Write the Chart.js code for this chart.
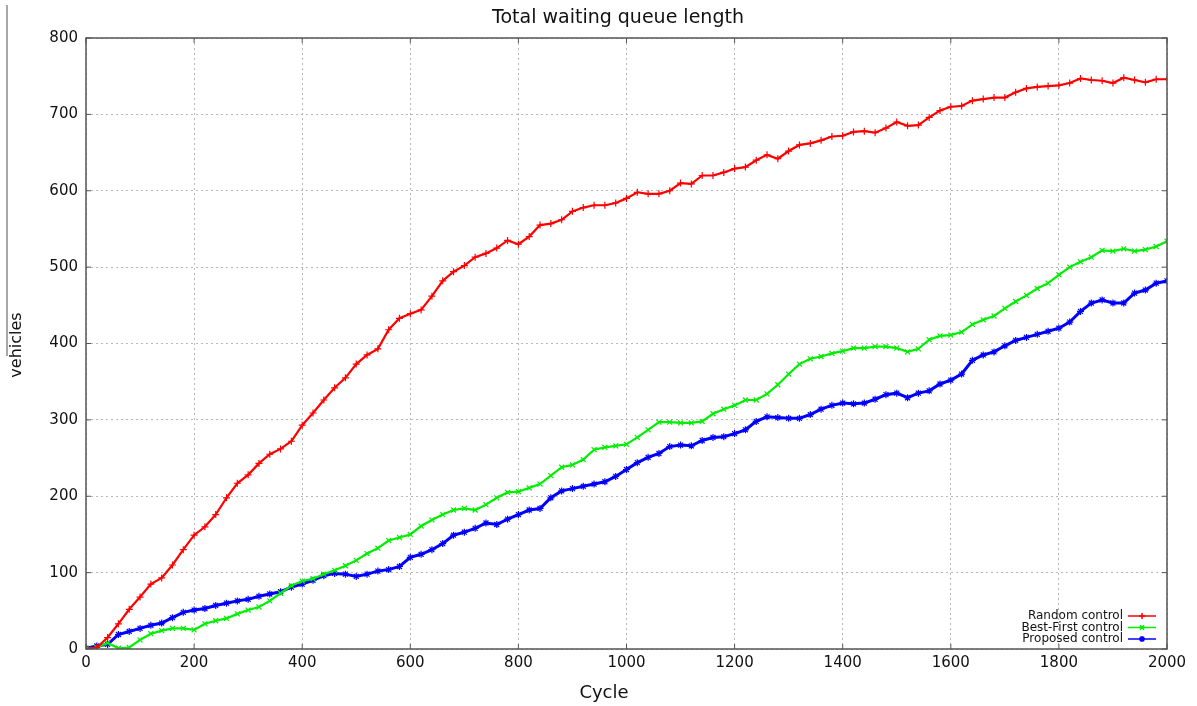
<!DOCTYPE html>
<html>
<head>
<meta charset="utf-8">
<script src="https://cdn.jsdelivr.net/npm/chart.js@4"></script>
<style>
  html, body { margin: 0; padding: 0; background: #fff; }
  #box { width: 1197px; height: 706px; }
</style>
</head>
<body>
<div id="box"><canvas id="queueChart" width="1197" height="706"></canvas></div>
<script>
// cycle values, one reading every 20 cycles
const cycles = [];
for (let c = 0; c <= 2000; c += 20) cycles.push(c);

const randomQueue = [
  0, 2, 15, 33, 52, 68, 85, 93, 110, 130, 149, 160, 176, 198, 217, 228, 243, 255, 262, 272,
  293, 309, 326, 342, 355, 373, 385, 393, 418, 433, 439, 444, 462, 482, 494, 502, 513, 518, 525, 535,
  530, 540, 555, 557, 562, 573, 578, 581, 581, 584, 590, 598, 596, 596, 600, 610, 609, 620, 620, 624,
  629, 631, 640, 647, 642, 652, 660, 662, 666, 671, 672, 677, 678, 676, 682, 690, 685, 686, 696, 705,
  710, 711, 718, 720, 722, 722, 729, 734, 736, 737, 738, 741, 747, 745, 744, 741, 748, 745, 742, 746,
  746
];
const bestFirstQueue = [
  0, 2, 8, 1, 2, 12, 20, 24, 27, 27, 25, 33, 37, 40, 46, 51, 55, 63, 73, 83,
  89, 92, 98, 103, 109, 116, 125, 132, 142, 146, 150, 161, 169, 176, 182, 184, 182, 189, 198, 205,
  206, 211, 216, 227, 238, 241, 248, 261, 264, 266, 268, 277, 287, 297, 297, 296, 296, 298, 308, 314,
  319, 326, 326, 334, 346, 360, 373, 380, 383, 387, 390, 394, 394, 396, 396, 394, 389, 393, 405, 410,
  411, 415, 425, 431, 436, 446, 455, 463, 472, 479, 490, 500, 507, 513, 522, 521, 524, 521, 523, 527,
  534
];
const proposedQueue = [
  1, 4, 6, 19, 23, 27, 31, 34, 41, 48, 51, 53, 57, 60, 63, 65, 69, 72, 75, 81,
  85, 90, 96, 99, 98, 95, 98, 102, 104, 108, 120, 124, 130, 138, 149, 153, 158, 165, 163, 170,
  176, 182, 184, 198, 207, 210, 213, 216, 219, 226, 235, 244, 251, 256, 265, 267, 266, 273, 277, 278,
  282, 287, 298, 304, 303, 302, 302, 307, 314, 319, 322, 321, 322, 327, 333, 335, 329, 335, 338, 347,
  352, 360, 378, 385, 389, 397, 404, 408, 412, 416, 420, 428, 442, 453, 457, 453, 453, 466, 470, 479,
  482
];

const seriesNames = ["Random control", "Best-First control", "Proposed control"];
const seriesColors = ["#ff0000", "#00ee00", "#0000ff"];
const seriesMarks = ["cross", "crossRot", "star"];
const seriesValues = [randomQueue, bestFirstQueue, proposedQueue];

const FONT = "'DejaVu Sans', Verdana, sans-serif";

const datasets = seriesValues.map((vals, i) => ({
  label: seriesNames[i],
  data: vals.map((v, k) => ({ x: cycles[k], y: v })),
  borderColor: seriesColors[i],
  backgroundColor: seriesColors[i],
  borderWidth: i === 2 ? 3 : 2.2,
  pointStyle: seriesMarks[i],
  pointRadius: 3.5,
  pointBorderWidth: 1.2,
  pointBorderColor: seriesColors[i],
  tension: 0,
  fill: false,
}));

// title, axis names, frame with inward ticks, and the key in the lower right
const decor = {
  id: "decor",
  afterDraw(chart) {
    const { ctx, chartArea: a, scales } = chart;
    ctx.save();

    // stray rule at the far left of the figure
    ctx.strokeStyle = "#8a8a8a";
    ctx.lineWidth = 1.5;
    ctx.beginPath();
    ctx.moveTo(7, 5);
    ctx.lineTo(7, 356);
    ctx.stroke();

    // frame
    ctx.strokeStyle = "#555";
    ctx.lineWidth = 1.5;
    ctx.strokeRect(a.left, a.top, a.right - a.left, a.bottom - a.top);

    // inward tick marks on all four sides
    ctx.lineWidth = 1;
    ctx.beginPath();
    scales.x.ticks.forEach(t => {
      const px = scales.x.getPixelForValue(t.value);
      ctx.moveTo(px, a.bottom); ctx.lineTo(px, a.bottom - 5);
      ctx.moveTo(px, a.top); ctx.lineTo(px, a.top + 5);
    });
    scales.y.ticks.forEach(t => {
      const py = scales.y.getPixelForValue(t.value);
      ctx.moveTo(a.left, py); ctx.lineTo(a.left + 5, py);
      ctx.moveTo(a.right, py); ctx.lineTo(a.right - 5, py);
    });
    ctx.stroke();

    // texts
    ctx.fillStyle = "#111";
    ctx.textAlign = "center";
    ctx.textBaseline = "middle";
    ctx.font = "19px " + FONT;
    ctx.fillText("Total waiting queue length", 618, 18);
    ctx.font = "18px " + FONT;
    ctx.fillText("Cycle", 604, 693);
    ctx.save();
    ctx.translate(17, 345);
    ctx.rotate(-Math.PI / 2);
    ctx.font = "16px " + FONT;
    ctx.fillText("vehicles", 0, 0);
    ctx.restore();

    // key
    ctx.font = "12px " + FONT;
    ctx.textAlign = "right";
    chart.data.datasets.forEach((ds, i) => {
      const y = 616 + i * 11.5;
      ctx.fillStyle = "#111";
      ctx.fillText(ds.label, 1123, y);
      ctx.strokeStyle = ds.borderColor;
      ctx.lineWidth = 1.5;
      ctx.beginPath();
      ctx.moveTo(1128, y);
      ctx.lineTo(1156, y);
      ctx.stroke();
      Chart.helpers.drawPoint(ctx, {
        pointStyle: ds.pointStyle, radius: 3, rotation: 0, borderWidth: 1.2
      }, 1142, y);
    });

    ctx.restore();
  }
};

const plainNumber = v => String(v);

new Chart(document.getElementById("queueChart"), {
  type: "line",
  data: { datasets },
  options: {
    responsive: false,
    animation: false,
    layout: { padding: { left: 0, top: 38, right: 30, bottom: 0 } },
    plugins: {
      legend: { display: false },
      title: { display: false },
      tooltip: { enabled: false },
    },
    scales: {
      x: {
        type: "linear",
        min: 0,
        max: 2000,
        ticks: {
          stepSize: 200,
          color: "#111",
          font: { family: FONT, size: 15 },
          padding: 5,
          callback: plainNumber,
        },
        grid: { color: "#b8b8b8", lineWidth: 1, drawTicks: false },
        border: { display: false, dash: [2, 3] },
        afterFit(scale) { scale.height = 57; },
      },
      y: {
        min: 0,
        max: 800,
        ticks: {
          stepSize: 100,
          color: "#111",
          font: { family: FONT, size: 15 },
          padding: 8,
          callback: plainNumber,
        },
        grid: { color: "#b8b8b8", lineWidth: 1, drawTicks: false },
        border: { display: false, dash: [2, 3] },
        afterFit(scale) { scale.width = 86; },
      },
    },
  },
  plugins: [decor],
});
</script>
</body>
</html>
